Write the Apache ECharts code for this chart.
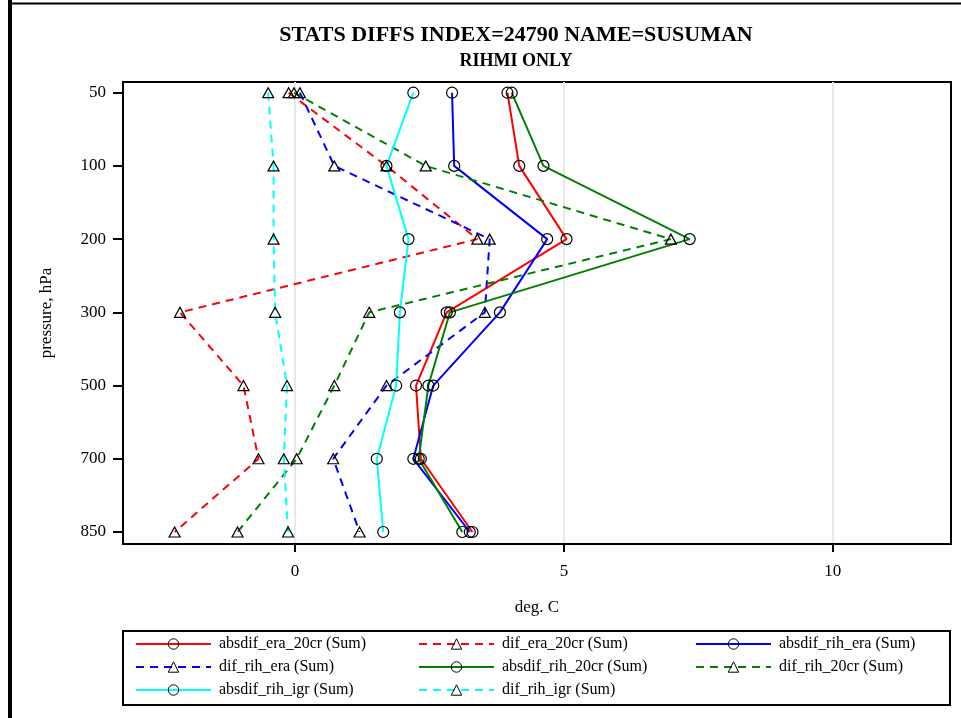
<!DOCTYPE html>
<html>
<head>
<meta charset="utf-8">
<script src="https://cdn.jsdelivr.net/npm/echarts@6/dist/echarts.min.js"></script>
<style>
  html, body { margin: 0; padding: 0; background: #fff; }
  #chart { width: 961px; height: 718px; }
</style>
</head>
<body>
<div id="chart"></div>
<script>
// Pressure levels (hPa), drawn top to bottom at even spacing
const levels = [50, 100, 200, 300, 500, 700, 850];
const xTicks = [0, 5, 10];

// Summed differences per level, deg. C
const absdif_era_20cr = [3.95, 4.17, 5.05, 2.82, 2.25, 2.34, 3.30];
const dif_era_20cr    = [-0.12, 1.70, 3.39, -2.14, -0.96, -0.68, -2.24];
const absdif_rih_era  = [2.92, 2.96, 4.69, 3.81, 2.57, 2.20, 3.25];
const dif_rih_era     = [0.09, 0.73, 3.62, 3.53, 1.70, 0.71, 1.20];
const absdif_rih_20cr = [4.03, 4.62, 7.34, 2.88, 2.48, 2.30, 3.11];
const dif_rih_20cr    = [-0.02, 2.43, 6.99, 1.38, 0.73, 0.03, -1.07];
const absdif_rih_igr  = [2.20, 1.70, 2.11, 1.95, 1.88, 1.52, 1.64];
const dif_rih_igr     = [-0.50, -0.40, -0.40, -0.37, -0.15, -0.21, -0.13];

const FONT = '"Liberation Serif", "DejaVu Serif", "Times New Roman", serif';
const levelIdx = levels.map((_, i) => i);

function makeSeries(name, values, color, dashed) {
  return {
    name: name,
    type: 'line',
    data: values.map((v, i) => [v, i]),
    symbol: dashed ? 'triangle' : 'circle',
    symbolSize: dashed ? [11, 10] : 11,
    showAllSymbol: true,
    lineStyle: { color: color, width: 2, type: dashed ? [8, 6] : 'solid' },
    itemStyle: { color: 'rgba(255,255,255,0)', borderColor: '#000', borderWidth: 1.2 },
    emphasis: { disabled: true },
    animation: false
  };
}

const series = [
  makeSeries('absdif_era_20cr (Sum)', absdif_era_20cr, '#ff0000', false),
  makeSeries('dif_era_20cr (Sum)', dif_era_20cr, '#ff0000', true),
  makeSeries('absdif_rih_era (Sum)', absdif_rih_era, '#0000ff', false),
  makeSeries('dif_rih_era (Sum)', dif_rih_era, '#0000ff', true),
  makeSeries('absdif_rih_20cr (Sum)', absdif_rih_20cr, '#008000', false),
  makeSeries('dif_rih_20cr (Sum)', dif_rih_20cr, '#008000', true),
  makeSeries('absdif_rih_igr (Sum)', absdif_rih_igr, '#00ffff', false),
  makeSeries('dif_rih_igr (Sum)', dif_rih_igr, '#00ffff', true)
];
const names = series.map(s => s.name);

function legendColumn(items, left) {
  return {
    data: items,
    orient: 'vertical',
    left: left,
    top: 631,
    itemWidth: 75,
    itemHeight: 13,
    itemGap: 7,
    selectedMode: false,
    itemStyle: { borderWidth: 1 },
    textStyle: { fontFamily: FONT, fontSize: 16, color: '#000', lineHeight: 16, padding: [0, 0, 0, 3] }
  };
}

const chart = echarts.init(document.getElementById('chart'), null, { renderer: 'canvas' });
chart.setOption({
  backgroundColor: '#fff',
  animation: false,
  grid: {
    left: 123, right: 10, top: 82, bottom: 174,
    show: true, borderColor: '#000', borderWidth: 2, backgroundColor: 'transparent'
  },
  xAxis: {
    type: 'value',
    min: -3.2, max: 12.2,
    name: 'deg. C',
    nameLocation: 'middle',
    nameGap: 55,
    nameTextStyle: { fontFamily: FONT, fontSize: 17, color: '#000' },
    axisLine: { show: true, onZero: false, lineStyle: { color: '#000', width: 2 } },
    axisTick: { show: true, customValues: xTicks, length: 8, lineStyle: { color: '#000', width: 2 } },
    axisLabel: { customValues: xTicks, margin: 19, fontFamily: FONT, fontSize: 17, color: '#000' },
    splitLine: { show: true, lineStyle: { color: '#e8e8e8', width: 2 } }
  },
  yAxis: {
    type: 'value',
    inverse: true,
    min: -0.146, max: 6.164,
    name: 'pressure, hPa',
    nameLocation: 'middle',
    nameRotate: 90,
    nameGap: 68,
    nameTextStyle: { fontFamily: FONT, fontSize: 17, color: '#000' },
    axisLine: { show: true, onZero: false, lineStyle: { color: '#000', width: 2 } },
    axisTick: { show: true, customValues: levelIdx, length: 10, lineStyle: { color: '#000', width: 2 } },
    axisLabel: {
      customValues: levelIdx,
      formatter: v => String(levels[Math.round(v)]),
      margin: 17, fontFamily: FONT, fontSize: 17, color: '#000'
    },
    splitLine: { show: false }
  },
  legend: [
    legendColumn([names[0], names[3], names[6]], 130),
    legendColumn([names[1], names[4], names[7]], 413),
    legendColumn([names[2], names[5]], 690)
  ],
  graphic: [
    { type: 'rect', silent: true, shape: { x: 8, y: 0, width: 4, height: 718 }, style: { fill: '#000' } },
    { type: 'rect', silent: true, shape: { x: 8, y: 2.5, width: 953, height: 2 }, style: { fill: '#000' } },
    { type: 'rect', silent: true, shape: { x: 123, y: 631, width: 827, height: 74 }, style: { fill: 'none', stroke: '#000', lineWidth: 2 } },
    { type: 'text', silent: true, x: 516, y: 35,
      style: { text: 'STATS DIFFS INDEX=24790 NAME=SUSUMAN', fontFamily: FONT, fontSize: 22, fontWeight: 'bold',
               fill: '#000', align: 'center', verticalAlign: 'middle' } },
    { type: 'text', silent: true, x: 516, y: 61,
      style: { text: 'RIHMI ONLY', fontFamily: FONT, fontSize: 18, fontWeight: 'bold',
               fill: '#000', align: 'center', verticalAlign: 'middle' } }
  ],
  series: series
});
</script>
</body>
</html>
